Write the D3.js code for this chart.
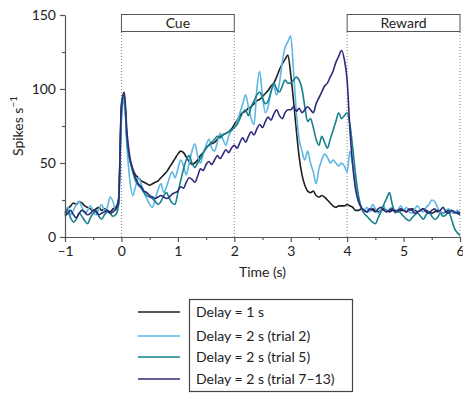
<!DOCTYPE html>
<html>
<head>
<meta charset="utf-8">
<script src="https://cdn.jsdelivr.net/npm/d3@7"></script>
<style>
  body { margin: 0; background: #fff; }
  text { font-family: Lato, "Open Sans", sans-serif; fill: #222; }
</style>
</head>
<body>
<svg id="chart" width="463" height="394"></svg>
<script>
// time axis: -1 .. 6 s, step 0.05 s
const times = d3.range(0, 141).map(i => -1 + i * 0.05);

const xTicks = [-1, 0, 1, 2, 3, 4, 5, 6];
const xMinor = [-0.5, 0.5, 1.5, 2.5, 3.5, 4.5, 5.5];
const yTicks = [0, 50, 100, 150];
const yMinor = [25, 75, 125];

const events = [
  { label: "Cue", start: 0, end: 2 },
  { label: "Reward", start: 4, end: 6 }
];

const names = ["Delay = 1 s", "Delay = 2 s (trial 2)", "Delay = 2 s (trial 5)", "Delay = 2 s (trial 7\u201313)"];
const colors = ["#1f1f1f", "#5db7e3", "#16808c", "#2d2b7c"];

// values, 20 per second
const delay1 = [
  16, 19, 21, 23, 22, 24, 23, 21, 20, 19, 18, 19, 20, 18, 19, 18, 17, 19, 20, 26,
  88, 97, 64, 52, 46, 42, 40, 38, 37, 36, 35, 36, 37, 38, 40, 42, 44, 47, 50, 53,
  56, 58, 57, 54, 51, 49, 50, 52, 55, 57, 60, 62, 63, 64, 66, 68, 69, 70, 71, 73,
  76, 79, 82, 84, 85, 87, 88, 90, 92, 93, 95, 97, 99, 102, 104, 108, 113, 117, 120, 123,
  110, 92, 72, 54, 42, 35, 31, 30, 31, 28, 27, 28, 27, 25, 23, 21, 20, 21, 21, 21,
  22, 21, 20, 18, 18, 19, 18, 17, 18, 19, 18, 17, 18, 19, 18, 17, 18, 18, 17, 18,
  18, 17, 18, 19, 18, 17, 18, 19, 18, 17, 16, 17, 18, 17, 16, 17, 18, 17, 16, 17,
  16
];
const trial2 = [
  17, 20, 15, 18, 22, 24, 20, 16, 18, 21, 17, 15, 19, 22, 18, 20, 27, 24, 18, 22,
  78, 92, 60, 38, 28, 34, 40, 36, 30, 26, 22, 20, 26, 32, 36, 30, 34, 40, 44, 40,
  46, 52, 48, 42, 50, 58, 63, 55, 50, 56, 62, 66, 60, 58, 64, 70, 66, 62, 68, 72,
  74, 78, 84, 90, 96, 88, 80, 76, 100, 112, 95, 84, 88, 98, 102, 96, 104, 118, 128, 132,
  136, 112, 84, 66, 58, 52, 58, 50, 44, 36, 46, 52, 56, 54, 50, 52, 50, 48, 50, 48,
  44, 58, 48, 36, 27, 20, 18, 20, 17, 22, 19, 16, 18, 21, 17, 19, 20, 16, 18, 21,
  18, 20, 17, 16, 19, 21, 18, 17, 20, 22, 25, 24, 20, 17, 16, 18, 19, 17, 16, 18,
  17
];
const trial5 = [
  15, 17, 13, 10, 12, 16, 14, 11, 9, 13, 16, 18, 14, 12, 15, 17, 16, 14, 15, 22,
  84, 95, 64, 52, 44, 38, 35, 33, 30, 28, 27, 26, 24, 22, 24, 28, 30, 26, 23, 22,
  30, 38, 46, 52, 55, 50, 47, 50, 53, 57, 60, 62, 64, 66, 68, 67, 69, 70, 71, 72,
  74, 76, 80, 84, 86, 82, 88, 92, 96, 98, 94, 90, 92, 98, 104, 100, 98, 102, 106, 104,
  104, 106, 108, 106, 100, 88, 78, 80, 74, 66, 62, 68, 64, 60, 66, 72, 78, 84, 80, 82,
  84, 76, 60, 42, 28, 20, 16, 14, 12, 10, 9, 13, 17, 22, 26, 30, 22, 17, 18, 16,
  14, 12, 11, 13, 15, 16, 14, 12, 15, 17, 14, 12, 13, 16, 14, 15, 17, 12, 6, 3,
  1
];
const trial7to13 = [
  14, 16, 18, 15, 13, 16, 18, 17, 15, 16, 18, 17, 15, 16, 17, 18, 16, 17, 19, 24,
  90, 98, 70, 54, 46, 40, 36, 34, 31, 30, 28, 27, 26, 27, 28, 27, 26, 27, 29, 30,
  31, 34, 33, 37, 40, 39, 37, 41, 46, 45, 49, 51, 49, 52, 55, 53, 56, 59, 57, 60,
  62, 60, 64, 67, 64, 68, 71, 69, 73, 76, 74, 78, 81, 79, 83, 86, 82, 80, 84, 86,
  86, 88, 85, 87, 84, 86, 88, 86, 84, 90, 94, 98, 102, 104, 108, 112, 118, 122, 126, 120,
  106, 72, 48, 32, 24, 20, 18, 17, 19, 18, 17, 19, 20, 18, 17, 18, 19, 17, 18, 19,
  18, 17, 19, 18, 16, 17, 18, 19, 17, 16, 18, 19, 17, 18, 20, 17, 16, 18, 17, 16,
  15
];

const seriesValues = [delay1, trial2, trial5, trial7to13];

const svg = d3.select("#chart");
const x = d3.scaleLinear().domain([-1, 6]).range([65, 460]);
const y = d3.scaleLinear().domain([0, 150]).range([237, 15]);
const axisColor = "#555";

// event boxes + dotted markers
events.forEach(ev => {
  svg.append("rect")
    .attr("x", x(ev.start)).attr("y", 14.5)
    .attr("width", x(ev.end) - x(ev.start)).attr("height", 17)
    .attr("fill", "#fff").attr("stroke", "#555").attr("stroke-width", 1);
  svg.append("text")
    .attr("x", (x(ev.start) + x(ev.end)) / 2).attr("y", 28)
    .attr("text-anchor", "middle").attr("font-size", 14)
    .text(ev.label);
});
[0, 2, 4, 6].forEach(t => {
  svg.append("line")
    .attr("x1", x(t)).attr("x2", x(t))
    .attr("y1", 32).attr("y2", y(0))
    .attr("stroke", "#888").attr("stroke-width", 1)
    .attr("stroke-dasharray", "1,2");
});

// lines
const line = d3.line()
  .x((d, i) => x(times[i]))
  .y(d => y(d))
  .curve(d3.curveMonotoneX);

seriesValues.forEach((vals, k) => {
  svg.append("path")
    .datum(vals)
    .attr("fill", "none")
    .attr("stroke", colors[k])
    .attr("stroke-width", 1.6)
    .attr("stroke-linejoin", "round")
    .attr("d", line);
});

// axes
svg.append("g")
  .attr("transform", `translate(${x(-1)},0)`)
  .call(d3.axisLeft(y).tickValues(yTicks).tickSize(5).tickSizeOuter(0).tickPadding(4));
svg.append("g")
  .attr("transform", `translate(${x(-1)},0)`)
  .call(d3.axisLeft(y).tickValues(yMinor).tickSize(3).tickFormat("").tickSizeOuter(0))
  .select(".domain").remove();

svg.append("g")
  .attr("transform", `translate(0,${y(0)})`)
  .call(d3.axisBottom(x).tickValues(xTicks).tickSize(5).tickSizeOuter(0).tickPadding(4)
    .tickFormat(d => d < 0 ? "\u2013" + Math.abs(d) : d));
svg.append("g")
  .attr("transform", `translate(0,${y(0)})`)
  .call(d3.axisBottom(x).tickValues(xMinor).tickSize(3).tickFormat("").tickSizeOuter(0))
  .select(".domain").remove();

svg.selectAll(".domain, .tick line").attr("stroke", axisColor).attr("stroke-width", 1.2);
svg.selectAll(".tick text").attr("font-size", 14).attr("font-family", "Lato, sans-serif").attr("fill", "#222");

// axis titles
svg.append("text")
  .attr("x", x(2.5)).attr("y", 277)
  .attr("text-anchor", "middle").attr("font-size", 14)
  .text("Time (s)");

const yLab = svg.append("text")
  .attr("transform", "translate(23,126) rotate(-90)")
  .attr("text-anchor", "middle").attr("font-size", 14);
yLab.append("tspan").text("Spikes s");
yLab.append("tspan").attr("dy", -6).attr("font-size", 10).text("\u22121");

// legend
svg.append("rect")
  .attr("x", 189.5).attr("y", 299.5).attr("width", 163).attr("height", 92)
  .attr("fill", "#fff").attr("stroke", "#444").attr("stroke-width", 1.2);
const legendY = [312, 336, 357, 379];
names.forEach((n, k) => {
  svg.append("line")
    .attr("x1", 138).attr("x2", 180)
    .attr("y1", legendY[k]).attr("y2", legendY[k])
    .attr("stroke", colors[k]).attr("stroke-width", 1.6);
  svg.append("text")
    .attr("x", 196).attr("y", legendY[k] + 5)
    .attr("font-size", 14)
    .text(n);
});
</script>
</body>
</html>
